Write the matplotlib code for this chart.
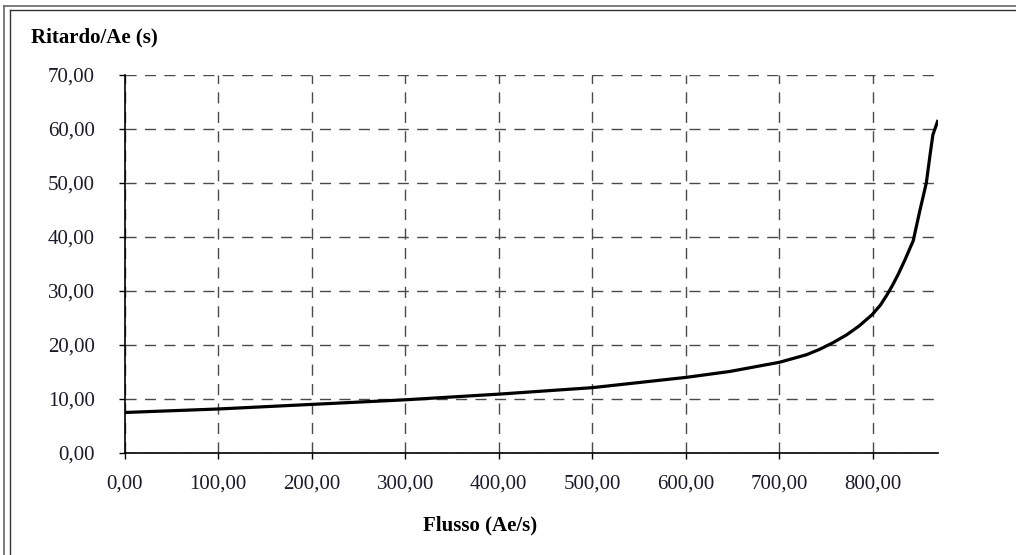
import matplotlib
matplotlib.use('Agg')
import matplotlib.pyplot as plt
from matplotlib.lines import Line2D
from matplotlib.ticker import FuncFormatter, MultipleLocator

# data
flusso = [0, 100, 200, 300, 400, 500, 600, 647, 700, 729, 743, 757, 772, 785, 799, 808,
          815, 821, 827, 834, 843, 850, 857, 861, 864, 869]
ritardo = [7.5, 8.15, 9.0, 9.85, 10.9, 12.1, 14.0, 15.1, 16.8, 18.2, 19.2, 20.4, 21.9, 23.5, 25.6, 27.4,
           29.3, 31.1, 33.1, 35.7, 39.3, 44.8, 50.0, 55.2, 58.9, 61.4]

plt.rcParams['font.family'] = ['Liberation Serif', 'DejaVu Serif']

W, H = 1016, 555
fig = plt.figure(figsize=(W / 100, H / 100), dpi=100)
ax = fig.add_axes([124.5 / W, 1 - 453 / H, (938 - 124.5) / W, (453 - 75) / H])

ax.plot(flusso, ritardo, color='black', lw=2.3, solid_joinstyle='round')

ax.set_xlim(0, 869.5)
ax.set_ylim(0, 70)
ax.xaxis.set_major_locator(MultipleLocator(100))
ax.yaxis.set_major_locator(MultipleLocator(10))
fmt = FuncFormatter(lambda v, p: ('%.2f' % v).replace('.', ','))
ax.xaxis.set_major_formatter(fmt)
ax.yaxis.set_major_formatter(fmt)

ax.grid(True, color='#4a4a4a', lw=1.0, linestyle=(0, (8, 6)))
ax.set_axisbelow(True)
for s in ['top', 'right']:
    ax.spines[s].set_visible(False)
for s in ['left', 'bottom']:
    ax.spines[s].set_color('black')
    ax.spines[s].set_linewidth(1.2)
ax.tick_params(axis='y', direction='out', length=4.5, width=1, pad=17, labelsize=15, labelcolor='#1a1a2a')
ax.tick_params(axis='x', direction='out', length=4.5, width=1, pad=11, labelsize=15, labelcolor='#1a1a2a')

fig.text(31 / W, 1 - 37 / H, 'Ritardo/Ae (s)', fontsize=15, fontweight='bold', va='center', ha='left')
fig.text(480 / W, 1 - 525 / H, 'Flusso (Ae/s)', fontsize=15, fontweight='bold', va='center', ha='center')

# double frame (clipped at right and bottom)
def px_line(x0, y0, x1, y1, c, lw):
    fig.add_artist(Line2D([x0 / W, x1 / W], [1 - y0 / H, 1 - y1 / H], color=c, lw=lw, transform=fig.transFigure))

px_line(3.5, 5.5, 3.5, H, '#666666', 1.2)
px_line(3.5, 5.5, W, 5.5, '#666666', 1.2)
px_line(10, 9.5, 10, H, '#333333', 1.0)
px_line(10, 9.5, W, 9.5, '#333333', 1.0)

fig.savefig('out.png', dpi=100)
